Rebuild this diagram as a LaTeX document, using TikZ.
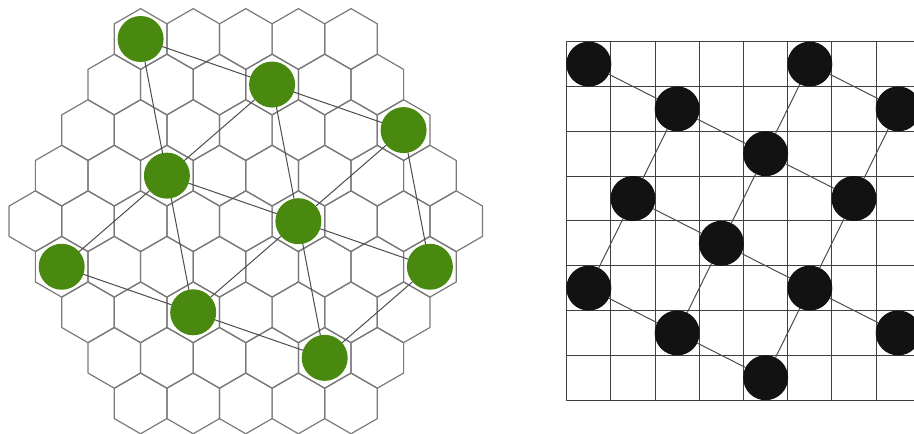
\documentclass[tikz,border=0pt]{standalone}
\definecolor{stonegreen}{RGB}{74,137,15}
\begin{document}
\begin{tikzpicture}[x=1pt, y=-1pt, line join=round, line cap=round,
	hexline/.style={draw=black!52, line width=1.2pt},
	link/.style={draw=black!70, line width=1pt},
	gridline/.style={draw=black!75, line width=1pt},
	gstone/.style={circle, fill=stonegreen, inner sep=0pt, minimum size=46pt},
	bstone/.style={circle, fill=black!93, inner sep=0pt, minimum size=45pt}]
	\useasboundingbox (0,0) rectangle (914,434);
	\clip (0,0) rectangle (914,434);
	\foreach \r in {0,...,8}{
		\pgfmathtruncatemacro{\n}{9-abs(\r-4)}
		\foreach \k in {1,...,\n}
			\draw[hexline] ({245.8+(\k-1-(\n-1)/2)*52.6},{39+\r*45.55}) +(30:30.37) -- +(90:30.37) -- +(150:30.37) -- +(210:30.37) -- +(270:30.37) -- +(330:30.37) -- cycle;
	}
	\node[gstone] (g1) at (140.6,39) {};
	\node[gstone] (g2) at (272.1,84.55) {};
	\node[gstone] (g3) at (403.6,130.1) {};
	\node[gstone] (g4) at (166.9,175.65) {};
	\node[gstone] (g5) at (298.4,221.2) {};
	\node[gstone] (g6) at (61.7,266.75) {};
	\node[gstone] (g7) at (429.9,266.75) {};
	\node[gstone] (g8) at (193.2,312.3) {};
	\node[gstone] (g9) at (324.7,357.85) {};
	\foreach \a/\b in {1/2, 2/3, 1/4, 2/5, 3/7, 4/5, 5/7, 2/4, 3/5, 4/6, 5/8, 7/9, 4/8, 5/9, 6/8, 8/9}
		\draw[link] (g\a) -- (g\b);
	\begin{scope}[shift={(566.7,41.7)}, x=44.2pt, y=-44.8pt]
		\foreach \i in {0,...,8}{
			\draw[gridline] (\i,0) -- (\i,8);
			\draw[gridline] (0,\i) -- (8,\i);
		}
		\foreach \c/\r in {0/0, 5/0, 2/1, 7/1, 4/2, 1/3, 6/3, 3/4, 0/5, 5/5, 2/6, 7/6, 4/7}
			\node[bstone] (s\c\r) at (\c+0.5,\r+0.5) {};
		\foreach \a/\b in {00/21, 21/42, 42/63, 50/71, 50/42, 21/13, 71/63, 42/34, 13/05, 13/34, 34/55, 63/55, 34/26, 05/26, 26/47, 55/76, 55/47}
			\draw[link] (s\a) -- (s\b);
	\end{scope}
\end{tikzpicture}
\end{document}
